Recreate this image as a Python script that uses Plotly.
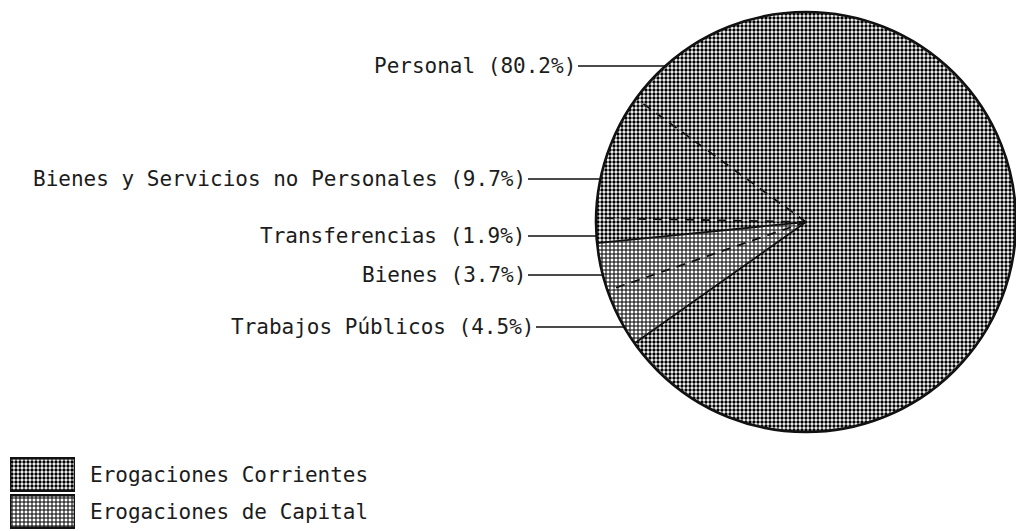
import math
import plotly.graph_objects as go

# Budget shares (percent), listed clockwise starting with "Personal"
items = ["Personal", "Trabajos Públicos", "Bienes", "Transferencias",
         "Bienes y Servicios no Personales"]
shares = [80.2, 4.5, 3.7, 1.9, 9.7]
item_group = ["Erogaciones Corrientes", "Erogaciones de Capital",
              "Erogaciones de Capital", "Erogaciones Corrientes",
              "Erogaciones Corrientes"]
groups = ["Erogaciones Corrientes", "Erogaciones de Capital"]

# ---- page geometry / styling -------------------------------------------
W, H = 1016, 531
CX, CY, R = 806, 222, 210          # pie centre and radius in pixels
START_ANGLE = 306                  # where the first slice begins (clockwise from 12 o'clock)
FONT = dict(family="DejaVu Sans Mono", size=21, color="#1c1c1c")
INK = "#111111"

group_pattern = {
    "Erogaciones Corrientes": dict(shape=".", size=4, solidity=0.55),
    "Erogaciones de Capital": dict(shape="+", size=4, solidity=0.45),
}
# line style of the radius where each slice starts
start_edge_dash = ["dash", "solid", "dash", "solid", "dash"]
# label placement: (leader line y in px, right end of the text in px)
label_place = {
    "Personal": (66, 578),
    "Trabajos Públicos": (327, 536),
    "Bienes": (275, 528),
    "Transferencias": (236, 528),
    "Bienes y Servicios no Personales": (179, 528),
}

pie_domain = dict(x=[(CX - R) / W, min(1.0, (CX + R) / W)],
                  y=[1 - (CY + R) / H, 1 - (CY - R) / H])


def to_x(px):
    return (px - CX) / R


def to_y(py):
    return (CY - py) / R


pat = [group_pattern[g] for g in item_group]

fig = go.Figure()

# patterned slices
fig.add_trace(go.Pie(
    labels=items, values=shares, sort=False, direction="clockwise",
    rotation=START_ANGLE, textinfo="none", hoverinfo="label+percent",
    domain=pie_domain, showlegend=False,
    marker=dict(
        colors=["white"] * len(items),
        line=dict(width=0),
        pattern=dict(shape=[p["shape"] for p in pat],
                     size=[p["size"] for p in pat],
                     solidity=[p["solidity"] for p in pat],
                     fgcolor="black", bgcolor="white", fillmode="replace"),
    ),
))

# outer rim
fig.add_trace(go.Pie(
    labels=["Total"], values=[sum(shares)], sort=False, textinfo="none",
    hoverinfo="skip", domain=pie_domain, showlegend=False,
    marker=dict(colors=["rgba(0,0,0,0)"], line=dict(color=INK, width=2.6)),
))

# legend swatches with their captions
fig.add_trace(go.Bar(
    x=[1] * len(groups), y=groups, orientation="h", width=0.88,
    xaxis="x2", yaxis="y2", cliponaxis=False, showlegend=False, hoverinfo="skip",
    marker=dict(
        color="white", line=dict(color=INK, width=2.6),
        pattern=dict(shape=[group_pattern[g]["shape"] for g in groups],
                     size=[group_pattern[g]["size"] for g in groups],
                     solidity=[group_pattern[g]["solidity"] for g in groups],
                     fgcolor="black", bgcolor="white", fillmode="replace"),
    ),
))

# slice boundaries, computed from the cumulative shares
total = sum(shares)
shapes = []
cum = 0.0
for share, dash in zip(shares, start_edge_dash):
    ang = math.radians(START_ANGLE + 360.0 * cum / total)
    shapes.append(dict(
        type="line", xref="x", yref="y", layer="above",
        x0=0, y0=0, x1=math.sin(ang), y1=math.cos(ang),
        line=dict(color=INK, width=1.8, dash="9px,7px" if dash == "dash" else "solid"),
    ))
    cum += share

# labels with leader lines to the rim
annotations = []
for item, share in zip(items, shares):
    py, text_right = label_place[item]
    yy = to_y(py)
    annotations.append(dict(
        text=f"{item} ({share:.1f}%)", font=FONT,
        xref="x", yref="y", axref="x", ayref="y",
        x=-math.sqrt(max(0.0, 1 - yy * yy)), y=yy,
        ax=to_x(text_right), ay=yy,
        xanchor="right", yanchor="middle",
        showarrow=True, arrowhead=0, arrowwidth=1.3, arrowcolor=INK,
        standoff=0, startstandoff=0,
    ))

fig.update_layout(
    width=W, height=H,
    margin=dict(l=0, r=0, t=0, b=0),
    paper_bgcolor="white", plot_bgcolor="rgba(0,0,0,0)",
    font=FONT,
    xaxis=dict(domain=pie_domain["x"], range=[-1, 1], visible=False, fixedrange=True),
    yaxis=dict(domain=pie_domain["y"], range=[-1, 1], visible=False, fixedrange=True),
    xaxis2=dict(domain=[10 / W, 75 / W], range=[0, 1], visible=False, fixedrange=True),
    yaxis2=dict(domain=[1 / H, 75 / H], anchor="x2", side="right",
                autorange="reversed", showgrid=False, zeroline=False, showline=False,
                ticks="", ticklabelstandoff=14, tickfont=FONT, fixedrange=True),
    shapes=shapes,
    annotations=annotations,
)

fig.write_html("out.html")
